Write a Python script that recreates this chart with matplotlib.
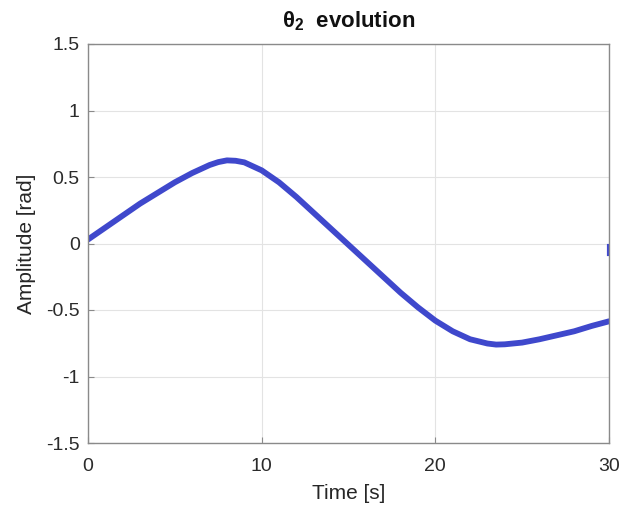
import matplotlib
matplotlib.use("Agg")
import matplotlib.pyplot as plt

plt.rcParams['font.family'] = ['Liberation Sans', 'DejaVu Sans']
plt.rcParams['mathtext.fontset'] = 'custom'
plt.rcParams['mathtext.rm'] = 'Liberation Sans'
plt.rcParams['mathtext.bf'] = 'Liberation Sans:bold'

# Dados
tempo = [0, 1, 2, 3, 4, 5, 6, 7, 7.5, 8, 8.5, 9, 10, 11, 12, 13, 14, 15,
         16, 17, 18, 19, 20, 21, 22, 23, 23.5, 24, 25, 26, 27, 28, 29, 30]
theta2 = [0.03, 0.12, 0.21, 0.30, 0.38, 0.46, 0.53, 0.59, 0.612, 0.625, 0.622, 0.61,
          0.55, 0.46, 0.35, 0.23, 0.11, -0.01, -0.13, -0.25, -0.37, -0.48, -0.58,
          -0.66, -0.72, -0.752, -0.76, -0.758, -0.745, -0.72, -0.69, -0.66, -0.62, -0.585]
# pequeno trecho solto no final
tempo_fim = [30, 30]
theta_fim = [-0.02, -0.08]

x_ticks = [0, 10, 20, 30]
y_ticks = [-1.5, -1, -0.5, 0, 0.5, 1, 1.5]
y_labels = ['-1.5', '-1', '-0.5', '0', '0.5', '1', '1.5']

fig = plt.figure(figsize=(6.24, 5.12), dpi=100)
ax = fig.add_axes([88/624, 69/512, 521/624, 399/512])

cor = '#3F48CC'
ax.plot(tempo, theta2, color=cor, linewidth=4.2, solid_capstyle='round',
        solid_joinstyle='round')
ax.plot(tempo_fim, theta_fim, color=cor, linewidth=3.0)

ax.set_xlim(0, 30)
ax.set_ylim(-1.5, 1.5)
ax.set_xticks(x_ticks)
ax.set_yticks(y_ticks)
ax.set_yticklabels(y_labels)
ax.grid(True, color='#e3e3e3', linewidth=0.8)
ax.tick_params(direction='in', length=4, colors='#8a8a8a', labelcolor='#2b2b2b',
               labelsize=14, top=False, right=False, pad=6)
ax.tick_params(axis='x', pad=11)
for s in ax.spines.values():
    s.set_color('#8a8a8a')
    s.set_linewidth(1.0)

ax.set_xlabel('Time [s]', fontsize=15, color='#262626', labelpad=6)
ax.set_ylabel('Amplitude [rad]', fontsize=15, color='#262626', labelpad=7)
ax.set_title(r'$\mathbf{\theta_2}$  evolution', fontsize=16, fontweight='bold',
             color='#111111', pad=12)

fig.savefig('out.png', dpi=100)
